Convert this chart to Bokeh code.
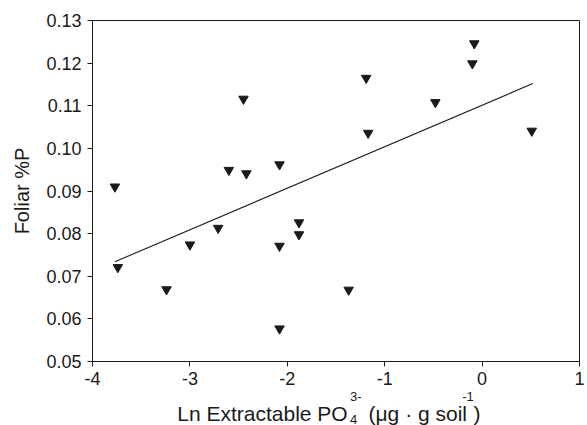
from bokeh.plotting import figure
from bokeh.models import Range1d, FixedTicker, ColumnDataSource
from bokeh.layouts import column
from bokeh.core.properties import value
from bokeh.embed import file_html
from bokeh.resources import INLINE

# ---- data ----
ln_po4 = [-3.77, -3.74, -3.24, -3.00, -2.71, -2.60, -2.42, -2.45, -2.08, -2.08,
          -2.08, -1.88, -1.88, -1.37, -1.19, -1.17, -0.48, -0.10, -0.08, 0.51]
foliar_p = [0.0910, 0.0721, 0.0669, 0.0774, 0.0813, 0.0949, 0.0941, 0.1116, 0.0962, 0.0771,
            0.0577, 0.0826, 0.0798, 0.0668, 0.1165, 0.1036, 0.1108, 0.1199, 0.1246, 0.1041]

fit_x = [-3.77, 0.52]
fit_y = [0.0734, 0.1152]

x_ticks = [-4, -3, -2, -1, 0, 1]
x_tick_labels = ["-4", "-3", "-2", "-1", "0", "1"]
y_ticks = [0.05, 0.06, 0.07, 0.08, 0.09, 0.10, 0.11, 0.12, 0.13]
y_tick_labels = ["0.05", "0.06", "0.07", "0.08", "0.09", "0.10", "0.11", "0.12", "0.13"]

y_title = "Foliar %P"
x_title_main = ["Ln Extractable PO", "(\u03bcg \u00b7 g soil", ")"]
x_title_small = ["3-", "4", "-1"]

FONT = "Liberation Sans"
INK = "#1a1a1a"
W = 585

p = figure(width=W, height=387, output_backend="svg", toolbar_location=None,
           x_range=Range1d(-4, 1), y_range=Range1d(0.05, 0.13),
           min_border_left=92, min_border_right=6, min_border_top=20, min_border_bottom=26)

p.xgrid.visible = False
p.ygrid.visible = False
p.outline_line_color = INK
p.outline_line_alpha = 1
p.outline_line_width = 1
p.background_fill_color = "white"
p.border_fill_color = "white"

for ax in (p.xaxis[0], p.yaxis[0]):
    ax.axis_line_color = INK
    ax.major_tick_line_color = INK
    ax.minor_tick_line_color = None
    ax.major_tick_in = 0
    ax.major_tick_out = 5
    ax.major_label_text_font = FONT
    ax.major_label_text_font_size = "18px"
    ax.major_label_text_color = INK
    ax.axis_label_text_font = FONT
    ax.axis_label_text_font_style = "normal"
    ax.axis_label_text_color = INK

p.xaxis.ticker = FixedTicker(ticks=x_ticks)
p.xaxis.major_label_overrides = {t: l for t, l in zip(x_ticks, x_tick_labels)}
p.xaxis.major_label_standoff = 5

p.yaxis.ticker = FixedTicker(ticks=y_ticks)
p.yaxis.major_label_overrides = {t: l for t, l in zip(y_ticks, y_tick_labels)}
p.yaxis.major_label_standoff = 6
p.yaxis.axis_label = y_title
p.yaxis.axis_label_text_font_size = "20px"
p.yaxis.axis_label_standoff = 10

src = ColumnDataSource(dict(x=ln_po4, y=foliar_p))
p.line(fit_x, fit_y, line_color=INK, line_width=1.1)
p.scatter("x", "y", source=src, marker="inverted_triangle", size=9.5,
          fill_color=INK, line_color=INK, line_width=1)

# ---- x-axis title strip (shares the x scale, stacked sub/superscript) ----
q = figure(width=W, height=38, output_backend="svg", toolbar_location=None, title=None,
           x_range=p.x_range, y_range=Range1d(0, 38),
           x_axis_location=None, y_axis_location=None,
           min_border_left=92, min_border_right=6, min_border_top=0, min_border_bottom=0)
q.xgrid.visible = False
q.ygrid.visible = False
q.outline_line_color = None
q.background_fill_color = "white"
q.border_fill_color = "white"

main_src = ColumnDataSource(dict(x=[-3.130, -1.166, -0.088], y=[12.0, 12.0, 12.0], t=x_title_main))
small_src = ColumnDataSource(dict(x=[-1.356, -1.356, -0.205], y=[29.0, 6.0, 29.0], t=x_title_small))
q.text("x", "y", text="t", source=main_src, text_font=value(FONT), text_font_size="21px",
       text_color=INK, text_align="left", text_baseline="alphabetic")
q.text("x", "y", text="t", source=small_src, text_font=value(FONT), text_font_size="13px",
       text_color=INK, text_align="left", text_baseline="alphabetic")

layout = column(p, q, spacing=0)
open("out.html", "w").write(file_html(layout, INLINE))
